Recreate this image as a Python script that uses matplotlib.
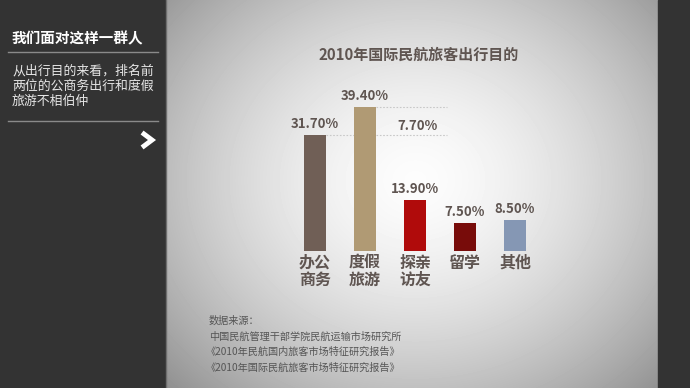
import numpy as np
from matplotlib import pyplot as plt
from matplotlib.lines import Line2D

plt.rcParams['font.family'] = ['Noto Sans CJK SC', 'DejaVu Sans']

# data
categories = ['办公\n商务', '度假\n旅游', '探亲\n访友', '留学', '其他']
shares = [31.7, 39.4, 13.9, 7.5, 8.5]
bar_colors = ['#705f56', '#b09a74', '#b00b0b', '#780c0a', '#8597b4']
value_labels = ['31.70%', '39.40%', '13.90%', '7.50%', '8.50%']
gap_label = '7.70%'

chart_title = '2010年国际民航旅客出行目的'
side_title = '我们面对这样一群人'
side_text = ['从出行目的来看，排名前', '两位的公商务出行和度假', '旅游不相伯仲']
source_lines = ['数据来源：', '中国民航管理干部学院民航运输市场研究所',
                '《2010年民航国内旅客市场特征研究报告》',
                '《2010年国际民航旅客市场特征研究报告》']

W, H = 690, 388
fig = plt.figure(figsize=(W / 100, H / 100), dpi=100)

# background in pixel coordinates
bg = fig.add_axes([0, 0, 1, 1])
bg.set_xlim(0, W)
bg.set_ylim(H, 0)
bg.axis('off')

yy, xx = np.mgrid[0:H, 0:W]
d = np.sqrt(((xx - 415) / 300.0) ** 2 + ((yy - 180) / 260.0) ** 2)
shade = np.clip(0.99 - 0.34 * d ** 1.6, 0, 1)
bg.imshow(shade, cmap='gray', vmin=0, vmax=1, extent=[0, W, H, 0], aspect='auto')

# dark side panels
bg.add_patch(plt.Rectangle((0, 0), 165, H, color='#333333', zorder=2))
bg.add_patch(plt.Rectangle((658, 0), W - 658, H, color='#333333', zorder=2))
bg.plot([165.5, 165.5], [0, H], color='#6e6e6e', lw=1, zorder=3)

bg.text(12, 38, side_title, color='white', fontsize=10.5, fontweight='bold',
        va='center', ha='left', zorder=4)
bg.plot([8, 158], [52, 52], color='#8a8a8a', lw=1, zorder=4)
for i, line in enumerate(side_text):
    bg.text(12, 71 + i * 15, line, color='#e6e6e6', fontsize=9.3,
            va='center', ha='left', zorder=4)
bg.plot([8, 158], [121, 121], color='#8a8a8a', lw=1, zorder=4)
bg.add_line(Line2D([144, 152, 144], [134, 140, 146], color='white', lw=3.5,
                   solid_joinstyle='miter', zorder=4))

bg.text(419, 55, chart_title, color='#5f5551', fontsize=10.8, fontweight='bold',
        ha='center', va='center', zorder=4)

for i, line in enumerate(source_lines):
    bg.text(209 if i < 2 else 206, 321 + i * 15.5, line, color='#555555',
            fontsize=7.3, ha='left', va='center', zorder=4)

# bar chart axes, placed in pixels
left, right, bottom, top = 290, 540, 250.7, 86.5
ax = fig.add_axes([left / W, (H - bottom) / H, (right - left) / W, (bottom - top) / H])
ax.patch.set_alpha(0)
ax.set_xlim(-0.5, 4.5)
ax.set_ylim(0, 45)
ax.axis('off')

xs = np.arange(len(shares))
ax.bar(xs, shares, width=0.44, color=bar_colors, zorder=3)

# dotted guides showing the gap between the two largest bars
ax.hlines(shares[0], 0.22, 2.64, color='#c8c8c8', lw=0.8, linestyles=(0, (1.5, 1.5)), zorder=2)
ax.hlines(shares[1], 1.22, 2.64, color='#c8c8c8', lw=0.8, linestyles=(0, (1.5, 1.5)), zorder=2)
ax.text(2.04, (shares[0] + shares[1]) / 2 - 1.3, gap_label, color='#5f5551',
        fontsize=9.5, fontweight='bold', ha='center', va='center')

for x, v, lab in zip(xs, shares, value_labels):
    ax.annotate(lab, (x, v), xytext=(0, 3), textcoords='offset points',
                ha='center', va='bottom', color='#5f5551', fontsize=9.5,
                fontweight='bold', annotation_clip=False)

for x, cat in zip(xs, categories):
    ax.annotate(cat, (x, 0), xytext=(0, -3), textcoords='offset points',
                ha='center', va='top', color='#5f5551', fontsize=11.5,
                fontweight='bold', linespacing=1.1, annotation_clip=False)

fig.savefig('out.png', dpi=100)
